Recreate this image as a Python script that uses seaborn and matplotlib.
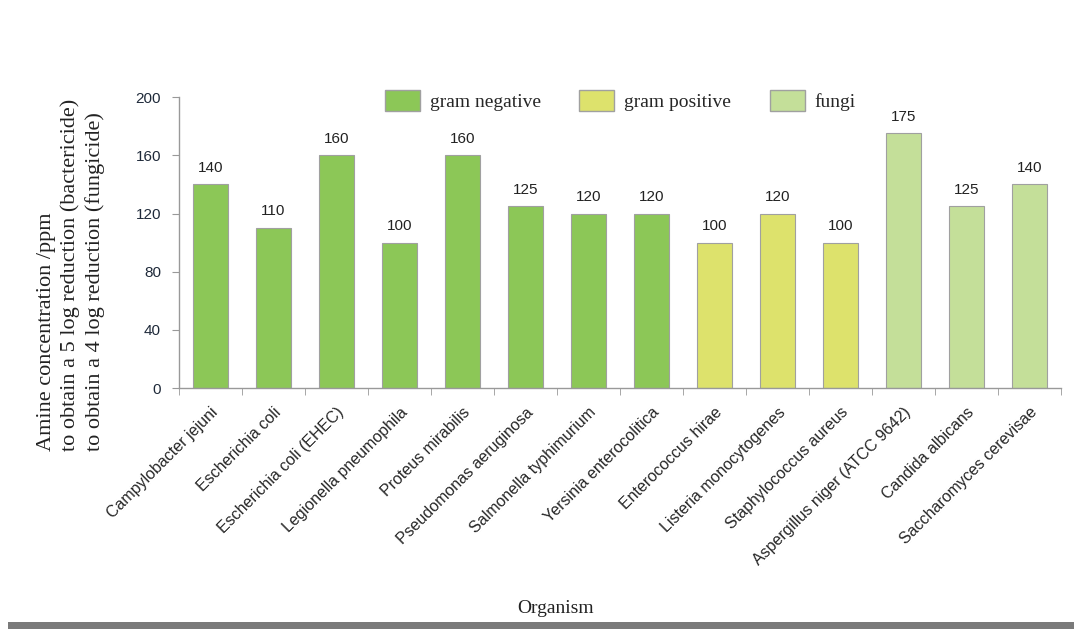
import seaborn as sns
import matplotlib.pyplot as plt
import pandas as pd
from matplotlib.patches import Patch, Rectangle

organisms = ['Campylobacter jejuni', 'Escherichia coli', 'Escherichia coli (EHEC)',
             'Legionella pneumophila', 'Proteus mirabilis', 'Pseudomonas aeruginosa',
             'Salmonella typhimurium', 'Yersinia enterocolitica', 'Enterococcus hirae',
             'Listeria monocytogenes', 'Staphylococcus aureus', 'Aspergillus niger (ATCC 9642)',
             'Candida albicans', 'Saccharomyces cerevisae']
concentration = [140, 110, 160, 100, 160, 125, 120, 120, 100, 120, 100, 175, 125, 140]
group = ['gram negative'] * 8 + ['gram positive'] * 3 + ['fungi'] * 3

groups = ['gram negative', 'gram positive', 'fungi']
colors = {'gram negative': '#8CC757', 'gram positive': '#DDE26C', 'fungi': '#C4DF99'}

df = pd.DataFrame({'organism': organisms, 'ppm': concentration, 'group': group})

sns.set_style('white')
fig = plt.figure(figsize=(10.74, 6.29), dpi=100)
ax = fig.add_axes([0.1667, 0.383, 0.8213, 0.4626])

sns.barplot(data=df, x='organism', y='ppm', hue='group', palette=colors, dodge=False,
            saturation=1, width=0.56, edgecolor='#a0a0a0', linewidth=0.8, legend=False, ax=ax)

for c in ax.containers:
    ax.bar_label(c, padding=7, fontsize=11, color='#222222', family='Liberation Sans')

ax.set_ylim(0, 200)
ax.set_xlim(-0.5, len(organisms) - 0.5)
ax.set_yticks([0, 40, 80, 120, 160, 200])
ax.tick_params(axis='y', left=True, length=5, color='#999999', labelsize=11,
               labelcolor='#1f2a3a', pad=8)
ax.tick_params(axis='x', which='major', bottom=False, length=0, pad=12)
ax.set_xticks([i + 0.5 for i in range(-1, len(organisms))], minor=True)
ax.tick_params(axis='x', which='minor', bottom=True, length=5, color='#999999')
ax.set_xticklabels(organisms, rotation=45, ha='right', rotation_mode='anchor',
                   fontsize=11.5, family='Liberation Sans')
for lbl in ax.get_yticklabels():
    lbl.set_family('Liberation Sans')
sns.despine(ax=ax)
for s in ['left', 'bottom']:
    ax.spines[s].set_color('#999999')
    ax.spines[s].set_linewidth(1)
ax.set_xlabel('')
ax.set_ylabel('')

fig.text(0.066, 0.563, 'Amine concentration /ppm\nto obtain a 5 log reduction (bactericide)\nto obtain a 4 log reduction (fungicide)',
         rotation=90, ha='center', va='center', multialignment='left',
         fontsize=16, family='Liberation Serif', linespacing=1.3, color='#222222')
fig.text(0.517, 0.033, 'Organism', ha='center', va='center', fontsize=14,
         family='Liberation Serif', color='#222222')

handles = [Patch(facecolor=colors[g], edgecolor='#a0a0a0', linewidth=1) for g in groups]
fig.legend(handles, groups, loc='center left', bbox_to_anchor=(0.342, 0.84), ncol=3,
           frameon=False, prop={'family': 'Liberation Serif', 'size': 14},
           handlelength=1.8, handleheight=1.3, handletextpad=0.5, columnspacing=2.0)

fig.patches.append(Rectangle((0.007, 0.0), 0.993, 0.011, transform=fig.transFigure,
                             facecolor='#7a7a7a', edgecolor='none'))

fig.savefig('out.png', dpi=100)
